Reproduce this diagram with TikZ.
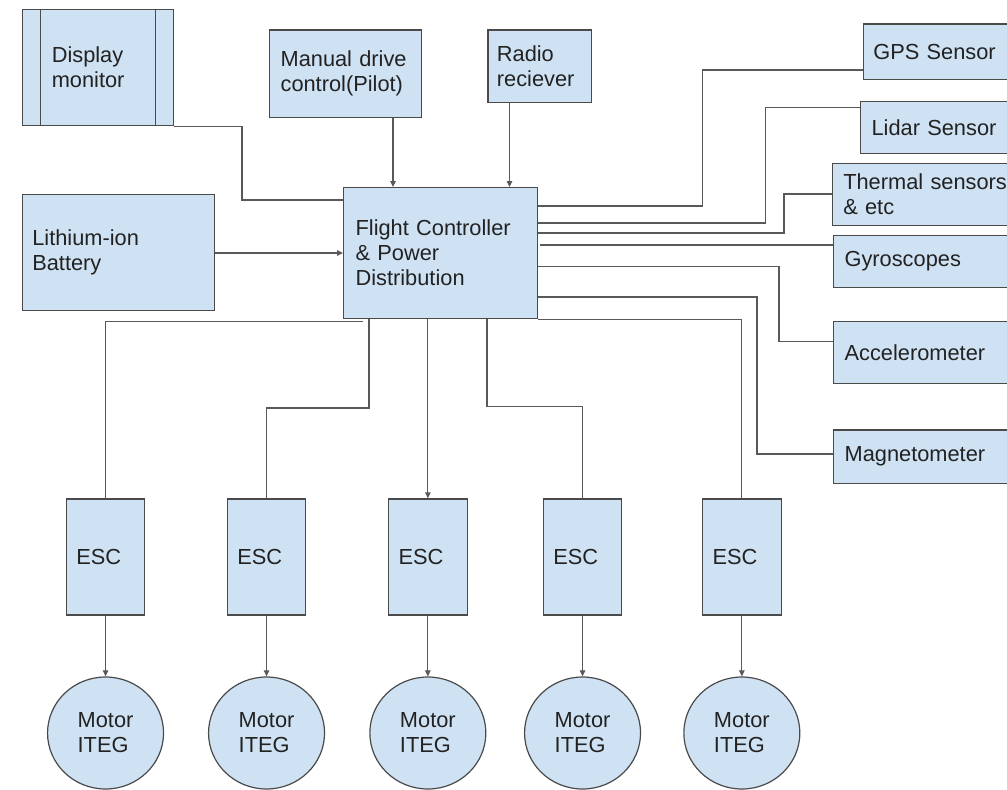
\documentclass[tikz,border=0pt]{standalone}
\usepackage{fontspec}
\setmainfont{Liberation Sans}
\usetikzlibrary{arrows.meta,shapes.geometric,calc}
\definecolor{boxfill}{HTML}{CFE2F3}
\definecolor{boxline}{HTML}{4A4A4A}
\definecolor{wirecol}{HTML}{595959}
\definecolor{txt}{HTML}{222222}
\begin{document}
\begin{tikzpicture}[x=1pt,y=-1pt,
  box/.style={draw=boxline, fill=boxfill, line width=1.2pt, anchor=north west,
    inner ysep=0pt, align=left, text=txt, font=\fontsize{21.8}{25}\selectfont},
  motor/.style={ellipse, draw=boxline, fill=boxfill, line width=1.2pt,
    minimum width=116pt, minimum height=112pt, inner sep=0pt, align=left,
    text=txt, font=\fontsize{21.8}{25}\selectfont},
  escbox/.style={box, minimum width=78.5pt, minimum height=116pt, inner xsep=10pt, text width=58.5pt},
  sensor/.style={box, minimum width=200pt, inner xsep=11pt, text width=178pt},
  wire/.style={draw=wirecol, line width=1.1pt},
  arr/.style={wire, -{Triangle[length=6pt,width=5.5pt]}}
]
\useasboundingbox (0,0) rectangle (1007,790);
\clip (0,0) rectangle (1007,790);
\fill[white] (0,0) rectangle (1007,790);

% top and left blocks
\node[box, minimum width=151.3pt, minimum height=116pt, inner xsep=29.5pt, text width=92.3pt] (disp) at (21.7,9) {Display\\monitor};
\draw[boxline, line width=1.2pt] ([xshift=19pt]disp.north west) -- ([xshift=19pt]disp.south west);
\draw[boxline, line width=1.2pt] ([xshift=-19pt]disp.north east) -- ([xshift=-19pt]disp.south east);
\node[box, minimum width=152pt, minimum height=87.4pt, inner xsep=11pt, text width=130pt] (man) at (269,29.3) {Manual drive\\control(Pilot)};
\node[box, minimum width=103.4pt, minimum height=72.4pt, inner xsep=9pt, text width=85.4pt] (rad) at (487.3,29.3) {Radio\\reciever};
\node[box, minimum width=194pt, minimum height=131pt, inner xsep=12pt, text width=170pt] (fc) at (343,187) {Flight Controller\\\& Power\\Distribution};
\node[box, minimum width=192.3pt, minimum height=116pt, inner xsep=10pt, text width=172.3pt] (bat) at (21.7,194) {Lithium-ion\\Battery};

% sensors
\node[sensor, minimum height=55.7pt, inner xsep=10pt, text width=180pt] (gps) at (862.7,23.3) {GPS Sensor};
\node[sensor, minimum height=51.7pt] (lid) at (860,101) {Lidar Sensor};
\node[sensor, minimum height=62.3pt] (th) at (831.7,162.7) {Thermal sensors\\\& etc};
\node[sensor, minimum height=52pt] (gyro) at (833,234.8) {Gyroscopes};
\node[sensor, minimum height=61.7pt] (acc) at (833,321) {Accelerometer};
\node[sensor, minimum height=53.4pt] (mag) at (833,429.3) {Magnetometer};

% ESCs
\node[escbox] (esc1) at (65.7,498.3) {ESC};
\node[escbox] (esc2) at (226.7,498.3) {ESC};
\node[escbox] (esc3) at (388,498.3) {ESC};
\node[escbox] (esc4) at (542.7,498.3) {ESC};
\node[escbox] (esc5) at (702,498.3) {ESC};

% motors
\node[motor] (m1) at (esc1.south |- 0,733) {Motor\\ITEG};
\node[motor] (m2) at (esc2.south |- 0,733) {Motor\\ITEG};
\node[motor] (m3) at (esc3.south |- 0,733) {Motor\\ITEG};
\node[motor] (m4) at (esc4.south |- 0,733) {Motor\\ITEG};
\node[motor] (m5) at (esc5.south |- 0,733) {Motor\\ITEG};

% inputs to FC
\draw[wire] (disp.south east) -| (242,200) -- (fc.west |- 0,200);
\draw[arr] (man.south -| 393,0) -- (fc.north -| 393,0);
\draw[arr] (rad.south -| 509.5,0) -- (fc.north -| 509.5,0);
\draw[arr] (bat.east |- 0,253) -- (fc.west |- 0,253);

% sensors to FC
\draw[wire] (fc.east |- 0,206) -| (702.7,70) -- (gps.west |- 0,70);
\draw[wire] (fc.east |- 0,223) -| (765.7,107.7) -- (lid.west |- 0,107.7);
\draw[wire] (fc.east |- 0,233) -| (784,194) -- (th.west |- 0,194);
\draw[wire] ([xshift=2pt]fc.east |- 0,245) -- (gyro.west |- 0,245);
\draw[wire] (fc.east |- 0,266.7) -| (779,341.7) -- (acc.west |- 0,341.7);
\draw[wire] (fc.east |- 0,297) -| (757,454) -- (mag.west |- 0,454);

% FC to ESCs
\draw[wire] ($(fc.south west)+(20,2.5)$) -| (esc1.north);
\draw[wire] (fc.south -| 369,0) -- (369,408) -| (esc2.north);
\draw[arr] (fc.south -| esc3.north) -- (esc3.north);
\draw[wire] (fc.south -| 487,0) -- (487,406.7) -| (esc4.north);
\draw[wire] (fc.south east) -| (esc5.north);

% ESCs to motors
\draw[arr] (esc1.south) -- (m1.north);
\draw[arr] (esc2.south) -- (m2.north);
\draw[arr] (esc3.south) -- (m3.north);
\draw[arr] (esc4.south) -- (m4.north);
\draw[arr] (esc5.south) -- (m5.north);
\end{tikzpicture}
\end{document}
